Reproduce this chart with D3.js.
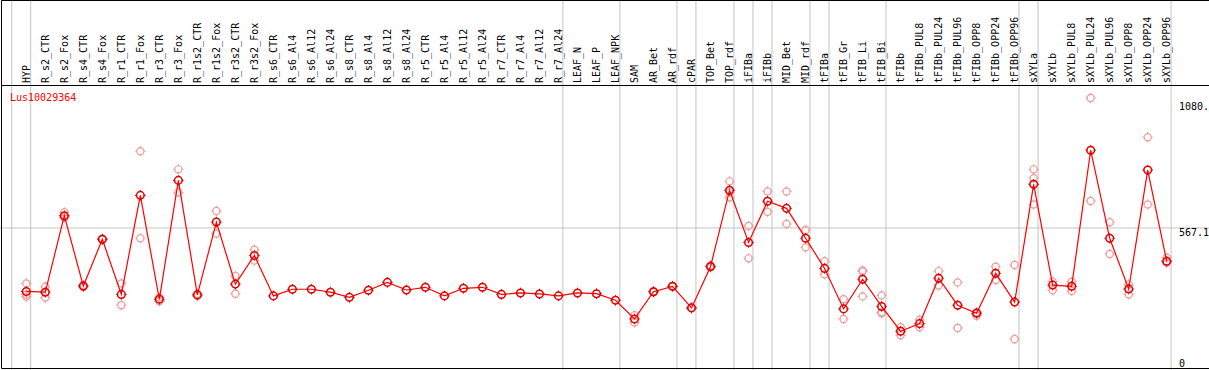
<!DOCTYPE html>
<html>
<head>
<meta charset="utf-8">
<script src="https://cdn.jsdelivr.net/npm/d3@7"></script>
<style>
    body { margin: 0; background: #fff; }
    text { font-family: "DejaVu Sans Mono", monospace; font-size: 10px; }
</style>
</head>
<body>
<div id="chart-area"></div>
<script>
const width = 1209,
    height = 370;

const geneName = "Lus10029364";

const samples = [
    "HYP", "R_s2_CTR", "R_s2_Fox", "R_s4_CTR", "R_s4_Fox", "R_r1_CTR", "R_r1_Fox",
    "R_r3_CTR", "R_r3_Fox", "R_r1s2_CTR", "R_r1s2_Fox", "R_r3s2_CTR", "R_r3s2_Fox",
    "R_s6_CTR", "R_s6_Al4", "R_s6_Al12", "R_s6_Al24", "R_s8_CTR", "R_s8_Al4",
    "R_s8_Al12", "R_s8_Al24", "R_r5_CTR", "R_r5_Al4", "R_r5_Al12", "R_r5_Al24",
    "R_r7_CTR", "R_r7_Al4", "R_r7_Al12", "R_r7_Al24", "LEAF_N", "LEAF_P", "LEAF_NPK",
    "SAM", "AR_Bet", "AR_rdf", "cPAR", "TOP_Bet", "TOP_rdf", "iFIBa", "iFIBb",
    "MID_Bet", "MID_rdf", "tFIBa", "tFIB_Gr", "tFIB_Li", "tFIB_Bi", "tFIBb",
    "tFIBb_PUL8", "tFIBb_PUL24", "tFIBb_PUL96", "tFIBb_OPP8", "tFIBb_OPP24",
    "tFIBb_OPP96", "sXYLa", "sXYLb", "sXYLb_PUL8", "sXYLb_PUL24", "sXYLb_PUL96",
    "sXYLb_OPP8", "sXYLb_OPP24", "sXYLb_OPP96"
];

// number of samples in each tissue group (separated by gray lines)
const groupSizes = [1, 28, 3, 3, 1, 2, 1, 1, 2, 1, 3, 7, 1, 7];

// mean expression per sample
const means = [
    308, 305, 617, 330, 521, 296, 700, 276, 761, 294, 591, 338, 455,
    290, 317, 317, 305, 284, 313, 345, 314, 325, 290, 321, 325,
    296, 302, 298, 290, 302, 299, 272,
    196, 307, 329, 241, 410, 721, 508, 676, 647, 525,
    402, 237, 358, 247, 146, 177, 362, 252, 219, 382, 265,
    745, 334, 329, 884, 525, 318, 803, 431
];

// individual replicates per sample
const replicates = [
    [341, 296, 287], [327, 283], [631, 610, 612], [326, 334], [519, 523],
    [341, 252], [880, 525], [268, 284], [806, 712], [299, 289], [636, 544],
    [371, 299], [478, 434],
    [], [], [], [], [], [], [], [], [], [], [], [], [], [], [], [], [], [], [],
    [181, 211], [305, 309], [327, 331], [239, 243], [406, 414], [757, 692, 714],
    [575, 443], [716, 633], [716, 583], [559, 488],
    [431, 378], [276, 196], [394, 389, 288], [292, 223, 219], [162, 129],
    [192, 162], [391, 332], [345, 159], [224, 209], [409, 355], [416, 114],
    [806, 770, 663], [348, 313], [348, 310], [1097, 677], [590, 461],
    [337, 296], [937, 663], [446, 425]
];

const yTicks = [1080, 567.1, 0];
const yTickLabels = ["1080.", "567.1", "0"];

const svg = d3
    .select("#chart-area")
    .append("svg")
    .attr("width", width)
    .attr("height", height);

const x = d3.scalePoint().domain(samples).range([26.3, 1166.7]).padding(0);
const step = x.step();

const y = d3.scaleLinear().domain([0, 1150]).range([367, 85]);

// group separators
let ends = [-1];
d3.cumsum(groupSizes).forEach((c) => ends.push(c - 1));
svg.append("g")
    .selectAll("line")
    .data(ends)
    .join("line")
    .attr("x1", (d) => 26.3 + d * step + 4.4)
    .attr("x2", (d) => 26.3 + d * step + 4.4)
    .attr("y1", 0)
    .attr("y2", height)
    .attr("stroke", "#c4c4c4")
    .attr("stroke-width", 1);

// gridline at the middle tick
svg.append("line")
    .attr("x1", 0)
    .attr("x2", width)
    .attr("y1", y(567.1))
    .attr("y2", y(567.1))
    .attr("stroke", "#c4c4c4")
    .attr("stroke-width", 1);

// frame
svg.append("path")
    .attr("d", `M${width},0.5H1.5V368.5H${width}M1.5,85.5H${width}`)
    .attr("fill", "none")
    .attr("stroke", "#000")
    .attr("stroke-width", 1);

// sample labels (vertical)
svg.append("g")
    .selectAll("text")
    .data(samples)
    .join("text")
    .attr("transform", (d) => `translate(${x(d) + 3.6}, 83) rotate(-90)`)
    .attr("fill", "#000")
    .text((d) => d);

// right axis labels
svg.append("g")
    .selectAll("text")
    .data(yTicks)
    .join("text")
    .attr("x", 1179)
    .attr("y", (d) => Math.min(y(d) + 8, 367))
    .attr("fill", "#000")
    .text((d, i) => yTickLabels[i]);

svg.append("text")
    .attr("x", 10)
    .attr("y", 101)
    .attr("fill", "#ff0000")
    .text(geneName);

const drawMarker = function (sel, r, color, sw) {
    sel.append("circle")
        .attr("r", r)
        .attr("fill", "none")
        .attr("stroke", color)
        .attr("stroke-width", sw);
    sel.append("path")
        .attr("d", `M0,${-r - 1.5}V${-r + 0.5}M0,${r - 0.5}V${r + 1.5}M${-r - 1.5},0H${-r + 0.5}M${r - 0.5},0H${r + 1.5}`)
        .attr("stroke", color)
        .attr("stroke-width", 1);
};

// replicate points
const repPoints = [];
replicates.forEach((reps, i) => {
    reps.forEach((v) => repPoints.push({ s: samples[i], v: v }));
});
svg.append("g")
    .selectAll("g")
    .data(repPoints)
    .join("g")
    .attr("transform", (d) => `translate(${x(d.s)}, ${y(d.v)})`)
    .call(drawMarker, 3.6, "#f09a9a", 1.2);

// mean line
const line = d3
    .line()
    .x((d, i) => x(samples[i]))
    .y((d) => y(d));

svg.append("path")
    .attr("d", line(means))
    .attr("fill", "none")
    .attr("stroke", "#ff0000")
    .attr("stroke-width", 1.2);

svg.append("g")
    .selectAll("g")
    .data(means)
    .join("g")
    .attr("transform", (d, i) => `translate(${x(samples[i])}, ${y(d)})`)
    .call(drawMarker, 3.8, "#e00000", 1.5);
</script>
</body>
</html>
